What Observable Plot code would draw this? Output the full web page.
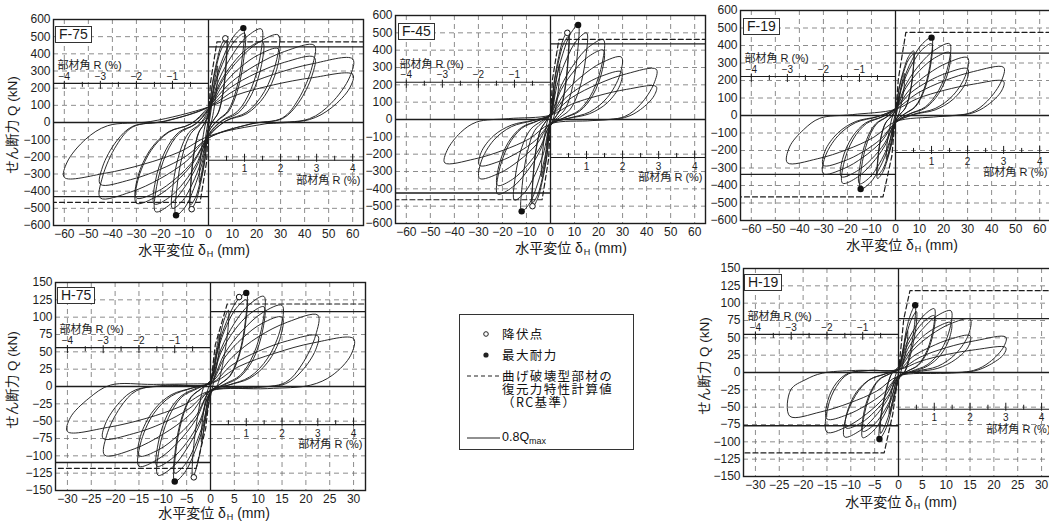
<!DOCTYPE html>
<html>
<head>
<meta charset="utf-8">
<script src="https://cdn.jsdelivr.net/npm/d3@7"></script>
<script src="https://cdn.jsdelivr.net/npm/@observablehq/plot@0.6"></script>
<style>
html, body { margin: 0; padding: 0; background: #fff; }
#page { position: relative; width: 1049px; height: 522px; overflow: hidden; background: #fff;
  font-family: "Liberation Sans", "Noto Sans CJK JP", sans-serif; color: #1a1a1a; }
.pl { position: absolute; }
.tag { position: absolute; border: 1px solid #333; background: #fff; font: 14px/15px "Liberation Sans", sans-serif;
  padding: 0 3px; color: #1a1a1a; }
.xt { position: absolute; font-size: 14px; line-height: 16px; white-space: nowrap; transform: translateX(-50%); }
.xt sub { font-size: 9px; vertical-align: -2px; margin-left: 1px; }
.yt { position: absolute; font-size: 13.5px; line-height: 16px; white-space: nowrap; transform: translate(-50%, -50%) rotate(-90deg); }
#legend { position: absolute; left: 459px; top: 314px; width: 173px; height: 134px; border: 1px solid #333; background: #fff; }
#legend svg { position: absolute; left: 0; top: 0; }
.lg { position: absolute; font-size: 12.5px; line-height: 13px; letter-spacing: 1.4px; white-space: pre;
  font-family: "Noto Sans CJK JP", "Liberation Sans", sans-serif; color: #111; }
.lg sub { font-size: 9px; vertical-align: -3px; letter-spacing: 0; }
</style>
</head>
<body>
<div id="page">
  <div id="legend">
    <svg width="173" height="134">
      <circle cx="26" cy="19" r="2.3" fill="#fff" stroke="#222" stroke-width="1"></circle>
      <circle cx="26" cy="40" r="2.6" fill="#222"></circle>
      <line x1="7" x2="40" y1="61" y2="61" stroke="#222" stroke-width="1.1" stroke-dasharray="4,3"></line>
      <line x1="7" x2="40" y1="123" y2="123" stroke="#222" stroke-width="1.1"></line>
    </svg>
    <div class="lg" style="left:42px;top:12px">降伏点</div>
    <div class="lg" style="left:42px;top:33px">最大耐力</div>
    <div class="lg" style="left:42px;top:54px">曲げ破壊型部材の
復元力特性計算値
（RC基準）</div>
    <div class="lg" style="left:42px;top:116px;font-family:'Liberation Sans',sans-serif;letter-spacing:0">0.8Q<sub>max</sub></div>
  </div>
</div>
<script>
// ---- tick values -------------------------------------------------------
const xTicksF = [-60, -50, -40, -30, -20, -10, 0, 10, 20, 30, 40, 50, 60];
const yTicksF = [-600, -500, -400, -300, -200, -100, 0, 100, 200, 300, 400, 500, 600];
const xTicksH = [-30, -25, -20, -15, -10, -5, 0, 5, 10, 15, 20, 25, 30];
const yTicksH = [-150, -125, -100, -75, -50, -25, 0, 25, 50, 75, 100, 125, 150];

// member rotation angle R (%) scale marks
const rMajorNeg = [-4, -3, -2, -1];
const rMinorNeg = [-3.5, -2.5, -1.5, -0.5];
const rMajorPos = [1, 2, 3, 4];
const rMinorPos = [0.5, 1.5, 2.5, 3.5];

// ---- specimen F-75 -----------------------------------------------------
// hysteresis loop: [horizontal displacement δH (mm), shear force Q (kN)]
const loopF75 = [
[0,0],[0.8,85],[1.5,150],[1.4,110],[0.5,20],[-0.8,-85],[-1.5,-150],[-1.4,-110],[-0.5,-20],
[0.6,60],[2,200],[3,280],[3.75,330],[3.7,250],[2.4,90],[1.1,0],[0,-40],[-1,-120],[-2.2,-240],[-3.2,-320],[-3.75,-350],[-3.7,-270],[-2.4,-95],[-1.1,0],[0,40],
[1.5,215],[3.4,353],[5.4,454],[7.5,500],[7.35,360],[6,175],[4.1,60],[1.9,10],[0,-45],[-1.5,-222],[-3.4,-361],[-5.4,-464],[-7.5,-510],[-7.35,-367],[-6,-179],[-4.1,-61],[-1.9,-10],[0,45],
[1.5,207],[3.4,334],[5.4,428],[7.5,470],[7.35,338],[6,165],[4.1,56],[1.9,9],[0,-45],[-1.5,-210],[-3.4,-341],[-5.4,-437],[-7.5,-480],[-7.35,-346],[-6,-168],[-4.1,-58],[-1.9,-10],[0,55],
[2.9,243],[6.5,392],[10.4,501],[14.5,550],[14.2,396],[11.6,193],[8,66],[3.6,11],[0,-55],[-2.7,-239],[-6.1,-385],[-9.7,-492],[-13.5,-540],[-13.2,-389],[-10.8,-189],[-7.4,-65],[-3.4,-11],[0,55],
[3,232],[6.75,371],[10.8,474],[15,520],[14.7,374],[12,182],[8.25,62],[3.75,10],[0,-55],[-3,-224],[-6.75,-358],[-10.8,-456],[-15,-500],[-14.7,-360],[-12,-175],[-8.25,-60],[-3.75,-10],[0,70],
[4.4,251],[9.9,393],[15.8,498],[22,545],[21.6,392],[17.6,191],[12.1,65],[5.5,11],[0,-70],[-4.4,-241],[-9.9,-376],[-15.8,-475],[-22,-520],[-21.6,-374],[-17.6,-182],[-12.1,-62],[-5.5,-10],[0,75],
[4.5,225],[10.1,344],[16.2,431],[22.5,470],[22.1,338],[18,165],[12.4,56],[5.6,9],[0,-75],[-4.5,-227],[-10.1,-347],[-16.2,-435],[-22.5,-475],[-22.1,-342],[-18,-166],[-12.4,-57],[-5.6,-10],[0,80],
[5.8,243],[13,372],[20.9,467],[29,510],[28.4,367],[23.2,179],[16,61],[7.25,10],[0,-80],[-6,-228],[-13.5,-345],[-21.6,-431],[-30,-470],[-29.4,-338],[-24,-165],[-16.5,-56],[-7.5,-9],[0,80],
[5.8,213],[13,318],[20.9,395],[29,430],[28.4,310],[23.2,151],[16,52],[7.25,9],[0,-80],[-6,-217],[-13.5,-325],[-21.6,-404],[-30,-440],[-29.4,-317],[-24,-154],[-16.5,-53],[-7.5,-9],[0,90],
[8.8,227],[19.8,335],[31.7,414],[44,450],[43.1,324],[37.4,135],[30.8,27],[17.6,-9],[0,-90],[-9,-223],[-20.25,-328],[-32.4,-405],[-45,-440],[-44.1,-317],[-38.25,-132],[-31.5,-26],[-18,9],[0,90],
[8.8,200],[19.8,287],[31.7,351],[44,380],[43.1,274],[37.4,114],[30.8,23],[17.6,-8],[0,-90],[-9,-193],[-20.25,-274],[-32.4,-333],[-45,-360],[-44.1,-259],[-38.25,-108],[-31.5,-22],[-18,7],[0,90],
[12,196],[27,280],[43.2,342],[60,370],[58.8,266],[51,111],[42,22],[24,-7],[0,-80],[-12,-171],[-27,-243],[-43.2,-296],[-60,-320],[-58.8,-230],[-51,-96],[-42,-19],[-24,6],[0,90],
[12,162],[27,219],[43.2,261],[60,280],[58.8,202],[51,84],[42,17],[24,-5]
];
const yieldF75 = [[7, 490], [-7, -505]];
const maxF75 = [[14.5, 550], [-13.5, -540]];
const calcF75pos = [[0, 0], [0.8, 230], [3.5, 470], [70, 470]];
const calcF75neg = [[0, 0], [-0.8, -230], [-3.5, -465], [-70, -465]];
const rAxisF75 = [228, -220];

// ---- specimen F-45 -----------------------------------------------------
const loopF45 = [
[0,0],[0.8,85],[1.5,150],[1.4,110],[0.5,20],[-0.8,-85],[-1.5,-150],[-1.4,-110],[-0.5,-20],
[0.6,55],[2,190],[3,270],[3.75,320],[3.7,240],[2.4,85],[1.1,0],[0,-35],[-1,-115],[-2.2,-230],[-3.2,-300],[-3.75,-330],[-3.7,-250],[-2.4,-90],[-1.1,0],[0,35],
[1.5,217],[3.4,361],[5.4,467],[7.5,515],[7.35,371],[6,180],[4.1,62],[1.9,10],[0,-35],[-1.5,-214],[-3.4,-355],[-5.4,-458],[-7.5,-505],[-7.35,-364],[-6,-177],[-4.1,-61],[-1.9,-10],[0,35],
[1.5,204],[3.4,338],[5.4,436],[7.5,480],[7.35,346],[6,168],[4.1,58],[1.9,10],[0,-35],[-1.5,-204],[-3.4,-338],[-5.4,-436],[-7.5,-480],[-7.35,-346],[-6,-168],[-4.1,-58],[-1.9,-10],[0,35],
[2.3,229],[5.2,382],[8.3,494],[11.5,545],[11.3,392],[9.2,191],[6.3,65],[2.9,11],[0,-35],[-2.4,-223],[-5.4,-372],[-8.6,-481],[-12,-530],[-11.8,-382],[-9.6,-186],[-6.6,-64],[-3,-11],[0,35],
[3,212],[6.75,351],[10.8,454],[15,500],[14.7,360],[12,175],[8.25,60],[3.75,10],[0,-35],[-3,-198],[-6.75,-327],[-10.8,-422],[-15,-465],[-14.7,-335],[-12,-163],[-8.25,-56],[-3.75,-9],[0,30],
[4.4,193],[9.9,322],[15.8,417],[22,460],[21.6,331],[17.6,161],[12.1,55],[5.5,9],[0,-30],[-4.4,-182],[-9.9,-302],[-15.8,-390],[-22,-430],[-21.6,-310],[-17.6,-151],[-12.1,-52],[-5.5,-9],[0,30],
[4.4,171],[9.9,282],[15.8,363],[22,400],[21.6,288],[17.6,140],[12.1,48],[5.5,8],[0,-30],[-4.4,-163],[-9.9,-268],[-15.8,-345],[-22,-380],[-21.6,-274],[-17.6,-133],[-12.1,-46],[-5.5,-8],[0,25],
[5.9,152],[13.3,253],[21.2,327],[29.5,360],[28.9,259],[23.6,126],[16.2,43],[7.4,7],[0,-25],[-5.9,-145],[-13.3,-239],[-21.2,-309],[-29.5,-340],[-28.9,-245],[-23.6,-119],[-16.2,-41],[-7.4,-7],[0,25],
[5.9,120],[13.3,195],[21.2,250],[29.5,275],[28.9,198],[23.6,96],[16.2,33],[7.4,6],[0,-25],[-5.9,-116],[-13.3,-188],[-21.2,-241],[-29.5,-265],[-28.9,-191],[-23.6,-93],[-16.2,-32],[-7.4,-5],[0,25],
[8.8,126],[19.8,205],[31.7,264],[44,290],[43.1,209],[37.4,87],[30.8,17],[17.6,-6],[0,-25],[-8.8,-111],[-19.8,-178],[-31.7,-228],[-44,-250],[-43.1,-180],[-37.4,-75],[-30.8,-15],[-17.6,5],[0,25],
[8.8,88],[19.8,137],[31.7,174],[44,190],[43.1,137],[37.4,57],[30.8,11],[17.6,-4]
];
const yieldF45 = [[7, 500], [-7.5, -500]];
const maxF45 = [[11.5, 545], [-12, -530]];
const calcF45pos = [[0, 0], [0.8, 230], [3.5, 462], [70, 462]];
const calcF45neg = [[0, 0], [-0.8, -230], [-3.5, -463], [-70, -463]];
const rAxisF45 = [215, -219];

// ---- specimen F-19 -----------------------------------------------------
const loopF19 = [
[0,0],[0.8,60],[1.5,110],[1.4,80],[0.5,15],[-0.8,-60],[-1.5,-110],[-1.4,-80],[-0.5,-15],
[0.6,40],[2,140],[3,205],[3.75,240],[3.7,180],[2.4,65],[1.1,0],[0,-30],[-1,-90],[-2.2,-175],[-3.2,-225],[-3.75,-250],[-3.7,-190],[-2.4,-70],[-1.1,0],[0,30],
[1.5,159],[3.4,261],[5.4,336],[7.5,370],[7.35,266],[6,130],[4.1,44],[1.9,7],[0,-30],[-1.5,-155],[-3.4,-254],[-5.4,-327],[-7.5,-360],[-7.35,-259],[-6,-126],[-4.1,-43],[-1.9,-7],[0,30],
[1.5,152],[3.4,248],[5.4,318],[7.5,350],[7.35,252],[6,123],[4.1,42],[1.9,7],[0,-30],[-1.5,-148],[-3.4,-241],[-5.4,-309],[-7.5,-340],[-7.35,-245],[-6,-119],[-4.1,-41],[-1.9,-7],[0,35],
[3,191],[6.75,314],[10.8,404],[15,445],[14.7,320],[12,156],[8.25,53],[3.75,9],[0,-35],[-2.9,-181],[-6.5,-297],[-10.4,-382],[-14.5,-420],[-14.2,-302],[-11.6,-147],[-8,-50],[-3.6,-8],[0,35],
[3,178],[6.75,290],[10.8,373],[15,410],[14.7,295],[12,144],[8.25,49],[3.75,8],[0,-35],[-3,-170],[-6.75,-276],[-10.8,-355],[-15,-390],[-14.7,-281],[-12,-137],[-8.25,-47],[-3.75,-8],[0,40],
[4.5,181],[10.1,292],[16.2,373],[22.5,410],[22.1,295],[18,144],[12.4,49],[5.6,8],[0,-40],[-4.4,-172],[-9.9,-276],[-15.8,-352],[-22,-387],[-21.6,-279],[-17.6,-135],[-12.1,-46],[-5.5,-8],[0,40],
[4.5,162],[10.1,258],[16.2,328],[22.5,360],[22.1,259],[18,126],[12.4,43],[5.6,7],[0,-40],[-4.5,-158],[-10.1,-251],[-16.2,-319],[-22.5,-350],[-22.1,-252],[-18,-123],[-12.4,-42],[-5.6,-7],[0,40],
[6,150],[13.5,237],[21.6,301],[30,330],[29.4,238],[24,116],[16.5,40],[7.5,7],[0,-40],[-6,-151],[-13.5,-239],[-21.6,-304],[-30,-333],[-29.4,-240],[-24,-117],[-16.5,-40],[-7.5,-7],[0,40],
[6,126],[13.5,194],[21.6,244],[30,267],[29.4,192],[24,93],[16.5,32],[7.5,5],[0,-40],[-6,-133],[-13.5,-207],[-21.6,-261],[-30,-285],[-29.4,-205],[-24,-100],[-16.5,-34],[-7.5,-6],[0,35],
[9,126],[20.25,198],[32.4,251],[45,275],[44.1,198],[38.25,83],[31.5,17],[18,-6],[0,-35],[-9,-124],[-20.25,-195],[-32.4,-247],[-45,-270],[-44.1,-180],[-38.25,-81],[-31.5,-16],[-18,5],[0,35],
[9,96],[20.25,144],[32.4,179],[45,195],[44.1,140],[38.25,59],[31.5,12],[18,-4]
];
const yieldF19 = [];
const maxF19 = [[15, 445], [-14.5, -420]];
const calcF19pos = [[0, 0], [1.2, 210], [4.3, 475], [70, 475]];
const calcF19neg = [[0, 0], [-1.5, -230], [-5.2, -465], [-70, -465]];
const rAxisF19 = [223, -211];

// ---- specimen H-75 -----------------------------------------------------
const loopH75 = [
[0,0],[0.9,40],[1.9,75],[1.85,55],[0.7,8],[-0.9,-42],[-1.9,-80],[-1.85,-60],[-0.7,-8],
[0.6,18],[1.8,65],[2.8,95],[3.75,110],[3.7,85],[2.5,30],[1.3,0],[0,-10],[-1,-45],[-2.2,-95],[-3.2,-123],[-3.75,-132],[-3.7,-100],[-2.5,-35],[-1.3,0],[0,8],
[1.5,56],[3.4,94],[5.4,122],[7.5,135],[7.35,97],[6,47],[4.1,16],[1.9,3],[0,-8],[-1.5,-57],[-3.4,-96],[-5.4,-124],[-7.5,-137],[-7.35,-99],[-6,-48],[-4.1,-16],[-1.9,-3],[0,8],
[1.5,52],[3.4,88],[5.4,113],[7.5,125],[7.35,90],[6,44],[4.1,15],[1.9,3],[0,-8],[-1.5,-52],[-3.4,-88],[-5.4,-113],[-7.5,-125],[-7.35,-90],[-6,-44],[-4.1,-15],[-1.9,-3],[0,8],
[2.2,54],[5,91],[8.1,118],[11.2,130],[11,94],[9,46],[6.2,16],[2.8,3],[0,-8],[-2.2,-54],[-5,-90],[-7.9,-116],[-11,-128],[-10.8,-92],[-8.8,-45],[-6,-15],[-2.75,-3],[0,8],
[2.2,49],[5,81],[8.1,104],[11.2,115],[11,83],[9,40],[6.2,14],[2.8,2],[0,-8],[-2.2,-49],[-5,-81],[-8.1,-104],[-11.2,-115],[-11,-83],[-9,-40],[-6.2,-14],[-2.8,-2],[0,6],
[3,48],[6.75,81],[10.8,106],[15,117],[14.7,84],[12,41],[8.25,14],[3.75,2],[0,-6],[-3,-47],[-6.75,-80],[-10.8,-104],[-15,-115],[-14.7,-83],[-12,-40],[-8.25,-14],[-3.75,-2],[0,5],
[3,42],[6.75,70],[10.8,91],[15,100],[14.7,72],[12,35],[8.25,12],[3.75,2],[0,-6],[-3,-42],[-6.75,-70],[-10.8,-91],[-15,-100],[-14.7,-72],[-12,-35],[-8.25,-12],[-3.75,-2],[0,5],
[4.5,42],[10.1,72],[16.2,93],[22.5,103],[22.05,74],[19.1,31],[15.75,6],[9,-2],[0,-6],[-4.4,-41],[-10,-69],[-16,-90],[-22.2,-99],[-21.8,-71],[-18.9,-30],[-15.5,-6],[-8.9,2],[0,4],
[4.5,31],[10.1,51],[16.2,66],[22.5,73],[22.05,53],[19.1,22],[15.75,4],[9,-1],[0,-6],[-4.5,-32],[-10.1,-53],[-16.2,-68],[-22.5,-75],[-22.05,-54],[-19.1,-23],[-15.75,-5],[-9,1],[0,4],
[6,29],[13.5,48],[21.6,63],[30,69],[29.4,45],[25.5,16],[21,2],[12,-3],[0,-6],[-6,-28],[-13.5,-46],[-21.6,-59],[-30,-65],[-29.4,-45],[-25.5,-17],[-21,2],[-12,3],[0,4]
];
const yieldH75 = [[6, 129], [-3.5, -131]];
const maxH75 = [[7.5, 135], [-7.5, -137]];
const calcH75pos = [[0, 0], [1, 60], [3.5, 119], [35, 119]];
const calcH75neg = [[0, 0], [-1, -60], [-3, -118], [-35, -118]];
const rAxisH75 = [56, -55];

// ---- specimen H-19 -----------------------------------------------------
const loopH19 = [
[0,0],[0.9,32],[1.9,60],[1.85,45],[0.7,6],[-0.9,-32],[-1.9,-60],[-1.85,-45],[-0.7,-6],
[0.6,20],[1.6,60],[2.6,85],[3.5,97],[3.45,75],[2.3,25],[1.2,0],[0,-10],[-1,-40],[-2.3,-75],[-3.3,-90],[-4,-96],[-3.95,-75],[-2.6,-25],[-1.3,0],[0,8],
[0.6,18],[1.7,55],[2.8,78],[3.75,88],[3.7,68],[2.4,22],[1.25,0],[0,-8],[-1,-35],[-2.2,-65],[-3.2,-82],[-3.75,-88],[-3.7,-68],[-2.4,-22],[-1.25,0],[0,6],
[1.5,39],[3.4,64],[5.4,83],[7.5,92],[7.35,66],[6,32],[4.1,11],[1.9,2],[0,-6],[-1.5,-39],[-3.4,-66],[-5.4,-85],[-7.5,-94],[-7.35,-68],[-6,-33],[-4.1,-11],[-1.9,-2],[0,5],
[1.5,34],[3.4,57],[5.4,74],[7.5,82],[7.35,59],[6,29],[4.1,10],[1.9,2],[0,-6],[-1.5,-36],[-3.4,-60],[-5.4,-77],[-7.5,-85],[-7.35,-61],[-6,-30],[-4.1,-10],[-1.9,-2],[0,5],
[2.2,37],[4.95,62],[7.9,81],[11,89],[10.8,64],[8.8,31],[6,11],[2.75,2],[0,-6],[-2.3,-39],[-5.1,-65],[-8.1,-84],[-11.3,-93],[-11.1,-67],[-9,-33],[-6.2,-11],[-2.8,-2],[0,5],
[2.2,30],[4.95,51],[7.9,65],[11,72],[10.8,52],[8.8,25],[6,9],[2.75,1],[0,-6],[-2.2,-34],[-4.95,-56],[-7.9,-73],[-11,-80],[-10.8,-58],[-8.8,-28],[-6,-10],[-2.75,-2],[0,5],
[3,32],[6.75,54],[10.8,70],[15,77],[14.7,55],[12,27],[8.25,9],[3.75,2],[0,-5],[-3,-36],[-6.75,-60],[-10.8,-78],[-15,-86],[-14.8,-50],[-13,-20],[-10.5,-2],[-6,3],[0,4],
[3,23],[6.75,37],[10.8,48],[15,53],[14.7,38],[12,19],[8.25,6],[3.75,1],[0,-5],[-3,-29],[-6.75,-47],[-10.8,-61],[-15,-67],[-14.8,-40],[-13,-15],[-10.5,-1],[-6,3],[0,4],
[4.5,22],[10.1,36],[16.2,46],[22.5,51],[22.05,37],[19.1,15],[15.75,3],[9,-1],[0,-5],[-4.6,-27],[-10.3,-44],[-16.4,-57],[-22.8,-63],[-22.6,-25],[-19.4,-10],[-16,-1],[-9,3],[0,4],
[4.5,16],[10.1,26],[16.2,33],[22.5,36],[22.05,26],[19.1,11],[15.75,2],[9,-1]
];
const yieldH19 = [];
const maxH19 = [[3.5, 97], [-4, -96]];
const calcH19pos = [[0, 0], [1.1, 77], [2.4, 118], [35, 118]];
const calcH19neg = [[0, 0], [-1.2, -60], [-2.5, -100], [-3, -116], [-35, -116]];
const rAxisH19 = [55, -53];

// ---- scales per specimen series ---------------------------------------
const specs = {
  F: {xDom: [-64.5, 64.5], yDom: [-600, 600], xTicks: xTicksF, yTicks: yTicksF, mmPerPct: 15},
  H: {xDom: [-32.5, 32.5], yDom: [-150, 150], xTicks: xTicksH, yTicks: yTicksH, mmPerPct: 7.5}
};

const panels = [
  {name: "F-75", kind: "F", loop: loopF75, yld: yieldF75, qmax: maxF75, calcPos: calcF75pos, calcNeg: calcF75neg, rAxis: rAxisF75},
  {name: "F-45", kind: "F", loop: loopF45, yld: yieldF45, qmax: maxF45, calcPos: calcF45pos, calcNeg: calcF45neg, rAxis: rAxisF45},
  {name: "F-19", kind: "F", loop: loopF19, yld: yieldF19, qmax: maxF19, calcPos: calcF19pos, calcNeg: calcF19neg, rAxis: rAxisF19},
  {name: "H-75", kind: "H", loop: loopH75, yld: yieldH75, qmax: maxH75, calcPos: calcH75pos, calcNeg: calcH75neg, rAxis: rAxisH75},
  {name: "H-19", kind: "H", loop: loopH19, yld: yieldH19, qmax: maxH19, calcPos: calcH19pos, calcNeg: calcH19neg, rAxis: rAxisH19}
];

// page placement of each plot frame and its captions
const layout = {
  "F-75": {left: 53,  top: 19,  h: 206, tag: [55, 26],   xTitle: [194, 242], yTitle: [13, 125]},
  "F-45": {left: 395, top: 15,  h: 208, tag: [398, 23],  xTitle: [571, 240]},
  "F-19": {left: 740, top: 10,  h: 210, tag: [743, 18],  xTitle: [902, 237]},
  "H-75": {left: 55,  top: 282, h: 208, tag: [57, 287],  xTitle: [214, 505], yTitle: [13, 380]},
  "H-19": {left: 743, top: 268, h: 208, tag: [744, 274], xTitle: [901, 494], yTitle: [705, 366]}
};
const M = {left: 46, right: 2, top: 2, bottom: 24};
const FRAME_W = 310;

const ink = "#1d1d1d";
const gridStyle = {stroke: "#707070", strokeWidth: 0.8, strokeDasharray: "5,4"};
const rTitle = "部材角 R (%)";
const fmtR = r => (r < 0 ? "\u2212" + (-r) : String(r));

function drawPanel(p) {
  const s = specs[p.kind];
  const lay = layout[p.name];
  const rx = r => r * s.mmPerPct;
  const [rTop, rBot] = p.rAxis;
  const marks = [
    Plot.ruleX(s.xTicks, gridStyle),
    Plot.ruleY(s.yTicks, gridStyle),
    Plot.ruleX([0], {stroke: ink, strokeWidth: 1.3}),
    Plot.ruleY([0], {stroke: ink, strokeWidth: 1.3}),
    // 0.8 Qmax levels
    Plot.ruleY([0.8 * p.qmax[0][1]], {x1: () => 0, x2: () => s.xDom[1], stroke: ink, strokeWidth: 1.3}),
    Plot.ruleY([0.8 * p.qmax[1][1]], {x1: () => s.xDom[0], x2: () => 0, stroke: ink, strokeWidth: 1.3}),
    // member rotation angle scales
    Plot.ruleY([rTop], {x1: () => s.xDom[0], x2: () => 0, stroke: ink, strokeWidth: 1.1}),
    Plot.ruleY([rBot], {x1: () => 0, x2: () => s.xDom[1], stroke: ink, strokeWidth: 1.1}),
    Plot.ruleX(rMajorNeg, {x: rx, y1: () => rTop, y2: () => rTop, insetTop: -2, insetBottom: -6, stroke: ink, strokeWidth: 1}),
    Plot.ruleX(rMinorNeg, {x: rx, y1: () => rTop, y2: () => rTop, insetTop: -1, insetBottom: -4, stroke: ink, strokeWidth: 1}),
    Plot.ruleX(rMajorPos, {x: rx, y1: () => rBot, y2: () => rBot, insetTop: -6, insetBottom: -2, stroke: ink, strokeWidth: 1}),
    Plot.ruleX(rMinorPos, {x: rx, y1: () => rBot, y2: () => rBot, insetTop: -4, insetBottom: -1, stroke: ink, strokeWidth: 1}),
    Plot.text(rMajorNeg, {x: rx, y: () => rTop, text: fmtR, dy: -7, fontSize: 10, fill: ink}),
    Plot.text(rMajorPos, {x: rx, y: () => rBot, text: fmtR, dy: 9, fontSize: 10, fill: ink}),
    Plot.text([rTitle], {frameAnchor: "left", y: () => rTop, text: d => d, dx: 4, dy: -18, textAnchor: "start", fontSize: 11, fill: ink}),
    Plot.text([rTitle], {frameAnchor: "right", y: () => rBot, text: d => d, dx: -3, dy: 20, textAnchor: "end", fontSize: 11, fill: ink}),
    // flexural-failure member restoring-force calculation
    Plot.line(p.calcPos, {x: d => d[0], y: d => d[1], stroke: ink, strokeWidth: 1.2, strokeDasharray: "5,3", clip: true}),
    Plot.line(p.calcNeg, {x: d => d[0], y: d => d[1], stroke: ink, strokeWidth: 1.2, strokeDasharray: "5,3", clip: true}),
    // measured hysteresis
    Plot.line(p.loop, {x: d => d[0], y: d => d[1], curve: "catmull-rom", stroke: "#202020", strokeWidth: 0.95, clip: true}),
    Plot.dot(p.qmax, {x: d => d[0], y: d => d[1], r: 3.2, fill: "#111", stroke: "none"}),
    Plot.dot(p.yld, {x: d => d[0], y: d => d[1], r: 2.8, fill: "#fff", stroke: "#111", strokeWidth: 1}),
    Plot.frame({stroke: ink, strokeWidth: 1.4})
  ];
  const chart = Plot.plot({
    width: M.left + FRAME_W + M.right,
    height: M.top + lay.h + M.bottom,
    marginLeft: M.left, marginRight: M.right, marginTop: M.top, marginBottom: M.bottom,
    style: {fontFamily: "'Liberation Sans', 'Noto Sans CJK JP', sans-serif", fontSize: "12px", color: ink, background: "transparent", maxWidth: "none", overflow: "visible"},
    x: {domain: s.xDom, ticks: s.xTicks, tickSize: 0, tickPadding: 4, label: null},
    y: {domain: s.yDom, ticks: s.yTicks, tickSize: 0, tickPadding: 3, label: null},
    marks
  });
  const page = document.getElementById("page");
  const holder = document.createElement("div");
  holder.className = "pl";
  holder.style.left = (lay.left - M.left) + "px";
  holder.style.top = (lay.top - M.top) + "px";
  holder.style.width = (M.left + FRAME_W + M.right) + "px";
  holder.appendChild(chart);
  page.appendChild(holder);

  const tag = document.createElement("div");
  tag.className = "tag";
  tag.style.left = lay.tag[0] + "px";
  tag.style.top = lay.tag[1] + "px";
  tag.textContent = p.name;
  page.appendChild(tag);

  const xt = document.createElement("div");
  xt.className = "xt";
  xt.style.left = lay.xTitle[0] + "px";
  xt.style.top = lay.xTitle[1] + "px";
  xt.innerHTML = "水平変位 δ<sub>H</sub> (mm)";
  page.appendChild(xt);

  if (lay.yTitle) {
    const yt = document.createElement("div");
    yt.className = "yt";
    yt.style.left = lay.yTitle[0] + "px";
    yt.style.top = lay.yTitle[1] + "px";
    yt.textContent = "せん断力 Q (kN)";
    page.appendChild(yt);
  }
}

panels.forEach(drawPanel);
</script>
</body>
</html>
